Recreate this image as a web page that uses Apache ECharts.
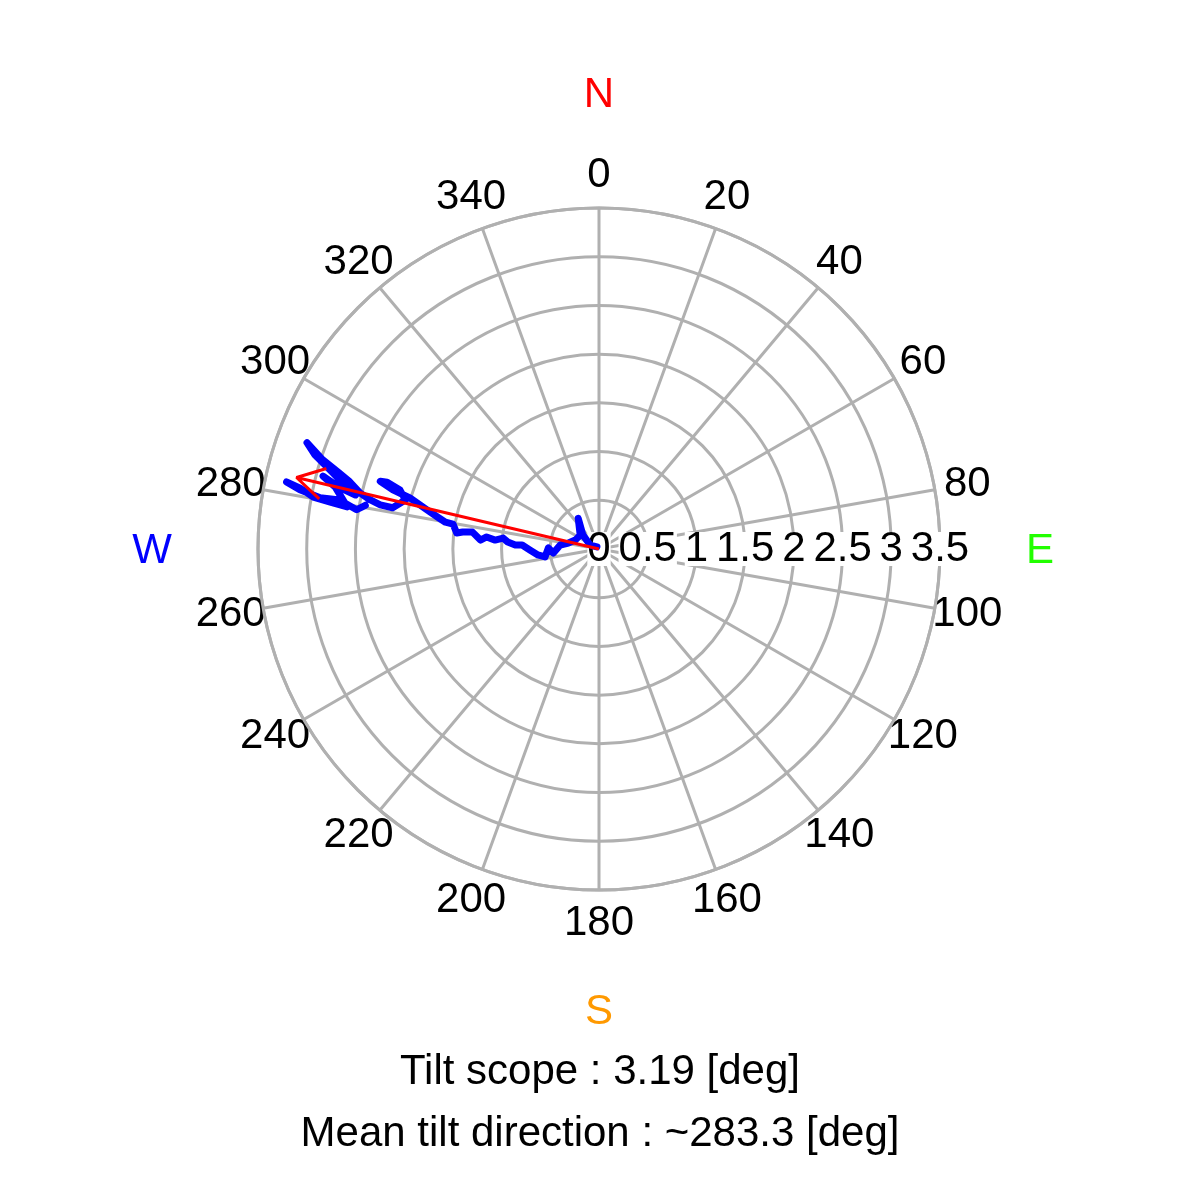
<!DOCTYPE html>
<html><head><meta charset="utf-8">
<script src="https://cdn.jsdelivr.net/npm/echarts@6/dist/echarts.min.js"></script>
<style>html,body{margin:0;padding:0;background:#fff}#c{width:1200px;height:1200px}</style>
</head><body><div id="c"></div>
<script>
// ---- data ----
const traceRadius = [0.03,0.10,0.22,0.38,0.24,0.26,0.32,0.40,0.47,0.52,
  0.56,0.63,0.71,0.79,0.86,0.94,0.99,1.07,1.16,1.22,
  1.31,1.41,1.47,1.52,1.60,1.69,1.81,2.01,2.20,2.35,
  2.28,2.13,2.05,2.16,2.29,2.40,2.52,2.65,2.79,2.98,
  3.19,3.07,2.88,2.69,2.56,2.73,2.93,2.78,2.62,2.80,
  2.98,3.13,3.28,3.13,2.91,2.71,2.52,2.44];
const traceAngle = [315,294.0,311.2,325.9,306.4,290.6,281.0,275.9,265.0,271.1,
  261.6,264.4,269.2,273.0,272.7,274.4,276.5,274.9,276.1,274.3,
  277.6,277.1,276.4,279.7,279.9,281.2,282.8,285.1,286.0,287.2,
  287.5,286.5,284.2,281.3,281.4,282.1,283.2,285.1,286.4,287.9,
  290.0,288.3,286.4,284.1,282.5,283.3,284.8,283.2,279.5,279.9,
  280.3,281.5,282.1,281.2,280.4,280.7,279.2,280.6];
const tiltScope = 3.19;
const tiltDirection = 283.3;
const angleTickValues = [0,20,40,60,80,100,120,140,160,180,200,220,240,260,280,300,320,340];
const compassLabels = ['N','E','S','W'];
const titleLines = ['Tilt scope : 3.19 [deg]', 'Mean tilt direction : ~283.3 [deg]'];

// ---- build ----
const FONT = '"Liberation Sans", Arial, Helvetica, sans-serif';
const FS = 42;
const GRID = '#b0b0b0';
const CX = 599, CY = 549, R = 341;
const LABEL_R = 374; // px radius of angle-label centres

const traceData = traceRadius.map((r, i) => [r, traceAngle[i]]);

// arrowhead (open V, +-30 deg) derived from the tip
function toXY(r, a) { const t = a * Math.PI / 180; return [r * Math.sin(t), r * Math.cos(t)]; }
function toPolar(x, y) { let a = Math.atan2(x, y) * 180 / Math.PI; if (a < 0) a += 360; return [Math.hypot(x, y), a]; }
const tip = toXY(tiltScope, tiltDirection);
const ux = -tip[0] / tiltScope, uy = -tip[1] / tiltScope;
const headLen = 0.32;
function barb(deg) {
  const t = deg * Math.PI / 180;
  const bx = ux * Math.cos(t) - uy * Math.sin(t);
  const by = ux * Math.sin(t) + uy * Math.cos(t);
  return toPolar(tip[0] + headLen * bx, tip[1] + headLen * by);
}
const arrowData = [[0, 0], [tiltScope, tiltDirection], barb(30), [tiltScope, tiltDirection], barb(-30)];

// angle labels: anchored at the centre (margin -R) and pushed out with padding so each is centred on LABEL_R
const angleRich = {};
angleTickValues.forEach(v => {
  const t = v * Math.PI / 180;
  const dx = LABEL_R * Math.sin(t), dy = -LABEL_R * Math.cos(t);
  const pl = dx > 0 ? 2 * dx : 0, pr = dx < 0 ? -2 * dx : 0;
  const pt = dy > 0 ? 2 * dy : 0, pb = dy < 0 ? -2 * dy : 0;
  angleRich['a' + v] = { fontSize: FS, fontFamily: FONT, color: '#000', padding: [pt, pr, pb, pl] };
});

const compassColors = ['#ff0000', '#22ff00', '#ff9900', '#0000ff'];
const compassPos = [[CX, 95], [1040, CY + 2], [CX, 1012], [152, CY + 2]];

const chart = echarts.init(document.getElementById('c'));
chart.setOption({
  animation: false,
  backgroundColor: '#fff',
  textStyle: { fontFamily: FONT },
  polar: [{ center: [CX, CY], radius: R }, { center: [CX, CY], radius: R }],
  angleAxis: [
    { polarIndex: 0, type: 'value', min: 0, max: 360, interval: 20, startAngle: 90, clockwise: true,
      axisLine: { show: true, lineStyle: { color: GRID, width: 3 } },
      axisTick: { show: false },
      axisLabel: { show: true, margin: -R, fontSize: FS, fontFamily: FONT, color: '#000',
        formatter: v => (v >= 360 ? '' : '{a' + v + '|' + v + '}'), rich: angleRich },
      splitLine: { show: true, lineStyle: { color: GRID, width: 3 } } },
    { polarIndex: 1, type: 'value', min: 0, max: 360, startAngle: 0, show: false }
  ],
  radiusAxis: [
    { polarIndex: 0, type: 'value', min: 0, max: 3.5, interval: 0.5,
      axisLine: { show: false }, axisTick: { show: false }, axisLabel: { show: false },
      splitLine: { show: true, lineStyle: { color: GRID, width: 3 } } },
    { polarIndex: 1, type: 'value', min: 0, max: 3.5, interval: 0.5, z: 3,
      axisLine: { show: false }, axisTick: { show: false }, splitLine: { show: false },
      axisLabel: { show: true, margin: 0, verticalAlign: 'middle', fontSize: FS, fontFamily: FONT,
        color: '#000', backgroundColor: '#fff', padding: [0, 0], lineHeight: 34 } }
  ],
  title: [
    { text: titleLines[0], left: 'center', top: 1046, textStyle: { fontSize: FS, fontWeight: 'normal', fontFamily: FONT, color: '#000' } },
    { text: titleLines[1], left: 'center', top: 1108, textStyle: { fontSize: FS, fontWeight: 'normal', fontFamily: FONT, color: '#000' } }
  ],
  graphic: compassLabels.map((t, i) => ({
    type: 'text', x: compassPos[i][0], y: compassPos[i][1],
    style: { text: t, fill: compassColors[i], font: FS + 'px ' + FONT, align: 'center', verticalAlign: 'middle' }
  })),
  series: [
    { type: 'line', coordinateSystem: 'polar', polarIndex: 0, data: traceData, symbol: 'none',
      lineStyle: { color: '#0000ff', width: 7, join: 'round', cap: 'round' }, z: 4 },
    { type: 'line', coordinateSystem: 'polar', polarIndex: 0, data: arrowData, symbol: 'none',
      lineStyle: { color: '#ff0000', width: 3 }, z: 5 }
  ]
});
</script></body></html>
